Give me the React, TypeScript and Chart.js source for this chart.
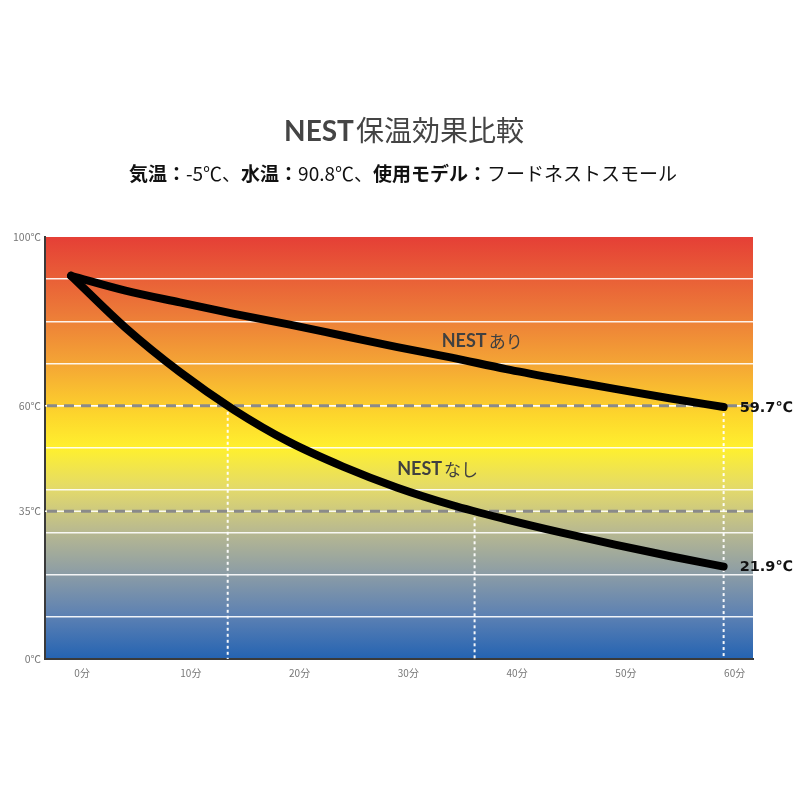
import React, { useEffect, useRef } from "react";
import { Chart, registerables } from "chart.js";

Chart.register(...registerables);

// ---- data ----
const minutes = [0, 5, 10, 15, 20, 25, 30, 35, 40, 45, 50, 55, 60];
const withNest = [90.8, 87.3, 84.5, 81.8, 79.3, 76.6, 73.9, 71.4, 68.7, 66.3, 64.0, 61.8, 59.7];
const withoutNest = [90.8, 78.5, 68.0, 59.0, 51.5, 45.6, 40.6, 36.5, 33.1, 30.0, 27.1, 24.4, 21.9];
const seriesNames = ["NESTあり", "NESTなし"];
const xTickMinutes = [0, 10, 20, 30, 40, 50, 60];
const xTickLabels = ["0分", "10分", "20分", "30分", "40分", "50分", "60分"];
const yLabelValues = [0, 35, 60, 100];
const referenceTemps = [60, 35];
const markerMinutes = [14.4, 37.1, 60];
const markerTemps = [60, 35, 59.7];
const endLabels = ["59.7℃", "21.9℃"];
const titleBold = "NEST";
const titleRest = "保温効果比較";
const subtitleParts: [string, boolean][] = [
  ["気温：", true],
  ["-5℃、", false],
  ["水温：", true],
  ["90.8℃、", false],
  ["使用モデル：", true],
  ["フードネストスモール", false],
];

const JP = '"Noto Sans CJK JP"';

const backgroundPlugin = {
  id: "bgGradient",
  beforeDraw(chart: any) {
    const { ctx, chartArea: a } = chart;
    const g = ctx.createLinearGradient(0, a.bottom, 0, a.top);
    g.addColorStop(0, "#2463b2");
    g.addColorStop(0.1, "#5b80b3");
    g.addColorStop(0.2, "#8b9ca6");
    g.addColorStop(0.3, "#b7b891");
    g.addColorStop(0.4, "#e2d96c");
    g.addColorStop(0.5, "#fff02e");
    g.addColorStop(0.58, "#fdd52c");
    g.addColorStop(0.7, "#f4a535");
    g.addColorStop(0.82, "#ec7a38");
    g.addColorStop(1, "#e53f36");
    ctx.save();
    ctx.fillStyle = g;
    ctx.fillRect(a.left, a.top, a.right - a.left, a.bottom - a.top);
    ctx.restore();
  },
};

const overlayPlugin = {
  id: "overlays",
  beforeDatasetsDraw(chart: any) {
    const { ctx, chartArea: a, scales } = chart;
    const xs = scales.x;
    const ys = scales.y;
    ctx.save();
    ctx.strokeStyle = "rgba(255,255,255,0.95)";
    ctx.lineWidth = 2;
    ctx.setLineDash([3, 3]);
    markerMinutes.forEach((m, i) => {
      const px = xs.getPixelForValue(m);
      ctx.beginPath();
      ctx.moveTo(px, ys.getPixelForValue(markerTemps[i]));
      ctx.lineTo(px, a.bottom);
      ctx.stroke();
    });
    referenceTemps.forEach((t) => {
      const py = ys.getPixelForValue(t);
      ctx.setLineDash([]);
      ctx.strokeStyle = "rgba(255,255,255,0.9)";
      ctx.lineWidth = 1.5;
      ctx.beginPath();
      ctx.moveTo(a.left, py);
      ctx.lineTo(a.right, py);
      ctx.stroke();
      ctx.setLineDash([10, 7]);
      ctx.strokeStyle = "#8a8a8a";
      ctx.lineWidth = 3;
      ctx.beginPath();
      ctx.moveTo(a.left + 2, py);
      ctx.lineTo(a.right, py);
      ctx.stroke();
    });
    ctx.restore();
  },
  afterDatasetsDraw(chart: any) {
    const { ctx, scales } = chart;
    const xs = scales.x;
    const ys = scales.y;
    ctx.save();
    const labelPos: [number, number][] = [
      [37.8, 75.2],
      [33.7, 45.0],
    ];
    seriesNames.forEach((name, i) => {
      const cx = xs.getPixelForValue(labelPos[i][0]);
      const cy = ys.getPixelForValue(labelPos[i][1]);
      const bold = name.slice(0, 4);
      const rest = name.slice(4);
      ctx.font = "bold 18px Lato";
      const w1 = ctx.measureText(bold).width;
      ctx.font = `17px ${JP}`;
      const w2 = ctx.measureText(rest).width;
      const x0 = cx - (w1 + 2 + w2) / 2;
      ctx.fillStyle = "#404040";
      ctx.textBaseline = "middle";
      ctx.textAlign = "left";
      ctx.font = "bold 18px Lato";
      ctx.fillText(bold, x0, cy);
      ctx.font = `17px ${JP}`;
      ctx.fillText(rest, x0 + w1 + 2, cy);
    });
    const ends = [withNest, withoutNest];
    ends.forEach((arr, i) => {
      const px = xs.getPixelForValue(minutes[minutes.length - 1]);
      const py = ys.getPixelForValue(arr[arr.length - 1]);
      ctx.font = 'bold 14.5px "DejaVu Sans"';
      ctx.fillStyle = "#111";
      ctx.textBaseline = "middle";
      ctx.textAlign = "left";
      ctx.fillText(endLabels[i], px + 16, py + 1);
    });
    ctx.restore();
  },
  afterDraw(chart: any) {
    const { ctx } = chart;
    ctx.save();
    ctx.textBaseline = "alphabetic";
    ctx.textAlign = "left";
    ctx.font = "bold 28px Lato";
    const wb = ctx.measureText(titleBold).width;
    ctx.font = `28px ${JP}`;
    const wr = ctx.measureText(titleRest).width;
    let x = 404 - (wb + 2 + wr) / 2;
    ctx.fillStyle = "#444";
    ctx.font = "bold 28px Lato";
    ctx.fillText(titleBold, x, 141);
    ctx.font = `28px ${JP}`;
    ctx.fillText(titleRest, x + wb + 2, 141);
    const fontFor = (b: boolean) => (b ? `bold 19px ${JP}` : `19px ${JP}`);
    let total = 0;
    subtitleParts.forEach(([t, b]) => {
      ctx.font = fontFor(b);
      total += ctx.measureText(t).width;
    });
    x = 403 - total / 2;
    ctx.fillStyle = "#111";
    subtitleParts.forEach(([t, b]) => {
      ctx.font = fontFor(b);
      ctx.fillText(t, x, 181);
      x += ctx.measureText(t).width;
    });
    ctx.restore();
  },
};

export default function App() {
  const ref = useRef<HTMLCanvasElement | null>(null);
  useEffect(() => {
    if (!ref.current) return;
    const lineStyle = {
      borderColor: "#000",
      borderWidth: 8,
      pointRadius: 0,
      cubicInterpolationMode: "monotone",
      borderCapStyle: "round",
      borderJoinStyle: "round",
      fill: false,
    };
    const chart = new Chart(ref.current, {
      type: "line",
      data: {
        datasets: [
          { label: seriesNames[0], data: minutes.map((m, i) => ({ x: m, y: withNest[i] })), ...lineStyle },
          { label: seriesNames[1], data: minutes.map((m, i) => ({ x: m, y: withoutNest[i] })), ...lineStyle },
        ],
      },
      options: {
        animation: false,
        responsive: false,
        devicePixelRatio: window.devicePixelRatio || 1,
        layout: { padding: { left: 0, top: 237, right: 47, bottom: 111 } },
        plugins: { legend: { display: false }, tooltip: { enabled: false } },
        scales: {
          x: {
            type: "linear",
            min: -2.4,
            max: 62.7,
            afterBuildTicks: (scale: any) => {
              scale.ticks = xTickMinutes.map((v) => ({ value: v }));
            },
            afterFit: (scale: any) => {
              scale.height = 30;
            },
            grid: { display: false, drawTicks: false },
            border: { display: true, color: "#3a3a3a", width: 2 },
            ticks: {
              autoSkip: false,
              maxRotation: 0,
              padding: 8,
              labelOffset: 11,
              color: "#777",
              font: { family: "Noto Sans CJK JP", size: 10 },
              callback: (v: any) => {
                const i = xTickMinutes.indexOf(Number(v));
                return i >= 0 ? xTickLabels[i] : "";
              },
            },
          },
          y: {
            type: "linear",
            min: 0,
            max: 100,
            afterFit: (scale: any) => {
              scale.width = 45;
            },
            grid: {
              drawTicks: false,
              lineWidth: 1.5,
              color: (c: any) => {
                const v = c.tick ? c.tick.value : -1;
                return v % 10 === 0 && v !== 0 && v !== 100 ? "rgba(255,255,255,0.9)" : "rgba(0,0,0,0)";
              },
            },
            border: { display: true, color: "#3a3a3a", width: 2 },
            ticks: {
              stepSize: 5,
              autoSkip: false,
              padding: 4,
              color: "#777",
              font: { family: "Noto Sans CJK JP", size: 10.5 },
              callback: (v: any) => (yLabelValues.includes(Number(v)) ? `${v}℃` : ""),
            },
          },
        },
      },
      plugins: [backgroundPlugin, overlayPlugin],
    } as any);
    return () => chart.destroy();
  }, []);
  return (
    <div style={{ position: "absolute", left: 0, top: 0, width: 800, height: 800, background: "#fff" }}>
      <canvas ref={ref} width={800} height={800} style={{ width: 800, height: 800 }} />
    </div>
  );
}
